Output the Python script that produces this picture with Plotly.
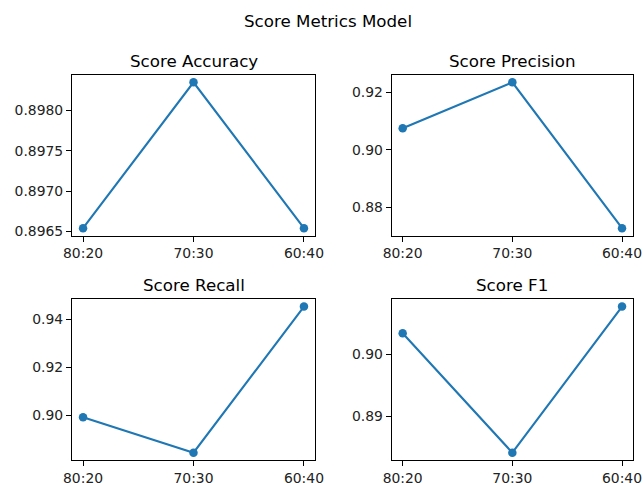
import plotly.graph_objects as go

splits = ["80:20", "70:30", "60:40"]
accuracy = [0.89654, 0.89835, 0.89654]
precision = [0.9075, 0.9235, 0.8728]
recall = [0.8993, 0.8846, 0.9452]
f1 = [0.9034, 0.8841, 0.9077]

panels = [
    ("Score Accuracy", accuracy, 0.0005, ".4f"),
    ("Score Precision", precision, 0.02, ".2f"),
    ("Score Recall", recall, 0.02, ".2f"),
    ("Score F1", f1, 0.01, ".2f"),
]

W, H = 643, 483
xdoms = [[72 / W, 315 / W], [391.7 / W, 633 / W]]
ydoms = [[1 - 235.5 / H, 1 - 75 / H], [1 - 460 / H, 1 - 299.3 / H]]
title_y = [61, 285]

FONT = "DejaVu Sans"
BLUE = "#1f77b4"

fig = go.Figure()
annotations = []
layout = {}
for i, (name, vals, dt, fmt) in enumerate(panels):
    r, c = divmod(i, 2)
    idx = "" if i == 0 else str(i + 1)
    xa, ya = "x" + idx, "y" + idx
    fig.add_trace(go.Scatter(
        x=splits, y=vals, mode="lines+markers", xaxis=xa, yaxis=ya,
        line=dict(color=BLUE, width=2.1), marker=dict(color=BLUE, size=8.5),
        showlegend=False, cliponaxis=False,
    ))
    lo, hi = min(vals), max(vals)
    pad = (hi - lo) * 0.05
    common = dict(showline=True, linecolor="black", linewidth=1.1, mirror=True,
                  ticks="outside", ticklen=5, tickwidth=1.1, tickcolor="black",
                  showgrid=False, zeroline=False, automargin=False,
                  tickfont=dict(family=FONT, size=13.9, color="#222"))
    layout["xaxis" + idx] = dict(domain=xdoms[c], anchor=ya, type="category",
                                 range=[-0.1, 2.1], **common)
    layout["yaxis" + idx] = dict(domain=ydoms[r], anchor=xa, range=[lo - pad, hi + pad],
                                 dtick=dt, tick0=0, tickformat=fmt, **common)
    annotations.append(dict(text=name, x=(xdoms[c][0] + xdoms[c][1]) / 2,
                            y=1 - title_y[r] / H, xref="paper", yref="paper",
                            xanchor="center", yanchor="middle", showarrow=False,
                            font=dict(family=FONT, size=16.7, color="black")))

annotations.append(dict(text="Score Metrics Model", x=327.5 / W, y=1 - 20.7 / H,
                        xref="paper", yref="paper", xanchor="center", yanchor="middle",
                        showarrow=False, font=dict(family=FONT, size=16.7, color="black")))

fig.update_layout(width=W, height=H, margin=dict(l=0, r=0, t=0, b=0, autoexpand=False),
                  paper_bgcolor="white", plot_bgcolor="white",
                  annotations=annotations, **layout)
fig.write_html("out.html", config={"displayModeBar": False},
               post_script="document.body.style.margin='0';")
